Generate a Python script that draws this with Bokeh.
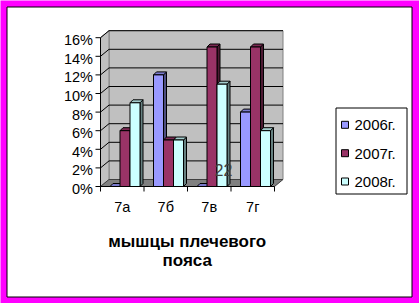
from bokeh.plotting import figure
from bokeh.models import Range1d
from bokeh.embed import file_html
from bokeh.resources import INLINE
from bokeh.core.properties import value

# ---- data ----
categories = ["7а", "7б", "7в", "7г"]
series_names = ["2006г.", "2007г.", "2008г."]
v2006 = [0, 12, 0, 8]
v2007 = [6, 5, 15, 15]
v2008 = [9, 5, 11, 6]
y_ticks = [0, 2, 4, 6, 8, 10, 12, 14, 16]
y_tick_labels = ["0%", "2%", "4%", "6%", "8%", "10%", "12%", "14%", "16%"]
axis_title_lines = ["мышцы плечевого", "пояса"]
stray_label = ["22"]

series_values = [v2006, v2007, v2008]
front_colors = ["#9999FF", "#993366", "#CCFFFF"]
top_colors = ["#7A7ACC", "#7A2952", "#A3CCCC"]
side_colors = ["#4D4D80", "#4D1A33", "#668080"]

# ---- layout constants (pixels) ----
W, H = 419, 303
PX_PER_CAT = 43.5
PX_PER_PCT = 9.3
X0_PX = 100.0
Y0_PX = 186.0


def xd(px):
    return (px - X0_PX) / PX_PER_CAT


def yd(py):
    return (Y0_PX - py) / PX_PER_PCT


def dxd(px):
    return px / PX_PER_CAT


def dyd(px):
    return px / PX_PER_PCT


FONT = value("Liberation Sans")

p = figure(width=W, height=H, x_range=Range1d(xd(0), xd(W)),
           y_range=Range1d(yd(H), yd(0)), output_backend="svg",
           toolbar_location=None, min_border=0,
           x_axis_location=None, y_axis_location=None)
p.grid.visible = False
p.outline_line_color = None
p.background_fill_color = "#FF00FF"
p.border_fill_color = "#FF00FF"

# white panel with black edge
p.quad(left=[xd(6.5)], right=[xd(411.5)], top=[yd(6.5)], bottom=[yd(296.5)],
       fill_color="white", line_color="black", line_width=1)

ncat = len(categories)
ymax = y_ticks[-1]
DX = dxd(8.5)
DY = dyd(7)

# walls and floor
p.quad(left=[DX], right=[ncat + DX], bottom=[DY], top=[ymax + DY],
       fill_color="#C0C0C0", line_color="#808080", line_width=1)
p.patch([0, 0, DX, DX], [0, ymax, ymax + DY, DY],
        fill_color="#C0C0C0", line_color="#808080", line_width=1)
p.patch([0, ncat, ncat + DX, DX], [0, 0, DY, DY],
        fill_color="#808080", line_color="#404040", line_width=1)

# grid lines on back wall and side wall
gt = [t for t in y_ticks if t > 0]
p.segment(x0=[DX] * len(gt), y0=[t + DY for t in gt],
          x1=[ncat + DX] * len(gt), y1=[t + DY for t in gt],
          line_color="black", line_width=1)
p.segment(x0=[0] * len(gt), y0=gt, x1=[DX] * len(gt), y1=[t + DY for t in gt],
          line_color="black", line_width=1)

# bars (3D boxes)
OFF = dxd(9.5)
BW = dxd(10)
BDX = dxd(3)
BDY = dyd(3)
for s, vals in enumerate(series_values):
    lefts = [c + OFF + s * BW for c in range(ncat)]
    rights = [l + BW for l in lefts]
    side_xs = [[r, r, r + BDX, r + BDX] for r in rights]
    side_ys = [[0, v, v + BDY, BDY] for v in vals]
    p.patches(side_xs, side_ys, fill_color=side_colors[s], line_color="black", line_width=1)
    top_xs = [[l, r, r + BDX, l + BDX] for l, r in zip(lefts, rights)]
    top_ys = [[v, v, v + BDY, v + BDY] for v in vals]
    p.patches(top_xs, top_ys, fill_color=top_colors[s], line_color="black", line_width=1)
    p.quad(left=lefts, right=rights, bottom=[0] * ncat, top=vals,
           fill_color=front_colors[s], line_color="black", line_width=1)

# axes
p.segment(x0=[0], y0=[0], x1=[0], y1=[ymax], line_color="black", line_width=1)
p.segment(x0=[xd(95)] * len(y_ticks), y0=y_ticks, x1=[0] * len(y_ticks), y1=y_ticks,
          line_color="black", line_width=1)
p.segment(x0=[0], y0=[0], x1=[ncat], y1=[0], line_color="black", line_width=1)
p.segment(x0=list(range(ncat + 1)), y0=[0] * (ncat + 1), x1=list(range(ncat + 1)),
          y1=[yd(191)] * (ncat + 1), line_color="black", line_width=1)

p.text(x=[xd(92.5)] * len(y_ticks), y=y_ticks, text=y_tick_labels,
       text_align="right", text_baseline="middle", y_offset=2.5,
       text_font=FONT, text_font_size=value("14.5px"), text_color="black")
p.text(x=[c + 0.5 for c in range(ncat)], y=[yd(206)] * ncat, text=categories,
       text_align="center", text_baseline="middle",
       text_font=FONT, text_font_size=value("14.5px"), text_color="black")

# axis title
p.text(x=[xd(186.7)] * 2, y=[yd(240.5), yd(259.8)], text=axis_title_lines,
       text_align="center", text_baseline="middle", text_font_style="bold",
       text_font=FONT, text_font_size=value("17px"), text_color="black")

# stray label
p.text(x=[xd(214)], y=[yd(169.3)], text=stray_label, text_align="left",
       text_baseline="alphabetic", text_font=FONT,
       text_font_size=value("16px"), text_color="#404040")

# legend
p.quad(left=[xd(335.5)], right=[xd(406.5)], top=[yd(107.5)], bottom=[yd(193.5)],
       fill_color="white", line_color="black", line_width=1)
leg_centers = [124.3, 152.7, 181.0]
p.quad(left=[xd(341)] * 3, right=[xd(348)] * 3,
       top=[yd(c - 3.5) for c in leg_centers], bottom=[yd(c + 3.5) for c in leg_centers],
       fill_color=front_colors, line_color="black", line_width=1)
p.text(x=[xd(354)] * 3, y=[yd(c) for c in leg_centers], text=series_names,
       text_align="left", text_baseline="middle",
       text_font=FONT, text_font_size=value("15px"), text_color="black")

open("out.html", "w").write(file_html(p, INLINE))
